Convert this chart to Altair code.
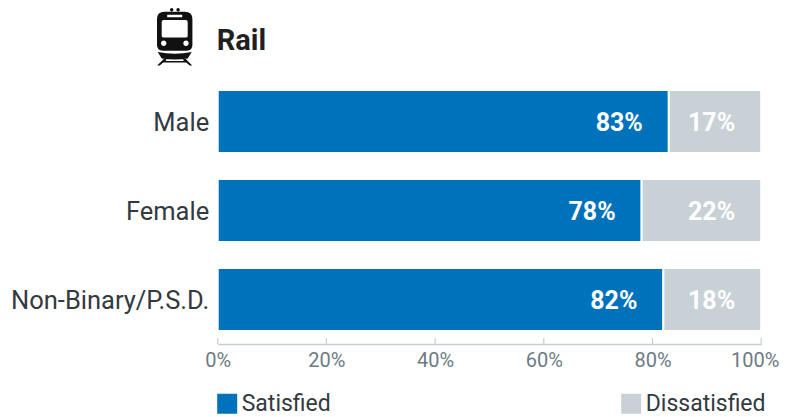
import altair as alt
import pandas as pd

groups = ["Male", "Female", "Non-Binary/P.S.D."]
satisfied = [83, 78, 82]
dissatisfied = [17, 22, 18]
ticks = [0, 20, 40, 60, 80, 100]
FONT = "Roboto"
BLUE = "#0072bc"
GREY = "#c8d1d6"

rows = []
for g, s, d in zip(groups, satisfied, dissatisfied):
    rows.append(dict(group=g, kind="Satisfied", start=0, end=s, label=f"{s}%"))
    rows.append(dict(group=g, kind="Dissatisfied", start=s, end=100, label=f"{d}%"))
df = pd.DataFrame(rows)

W, H = 543.5, 267
x_scale = alt.Scale(domain=[0, 100], nice=False)
y_enc = alt.Y("group:N", sort=groups, scale=alt.Scale(paddingInner=26 / 89),
              axis=alt.Axis(title=None, ticks=False, domain=False, labelColor="#333a40",
                            labelFontSize=25.5, labelFont=FONT, labelPadding=9, labelOffset=1.5))

bars = alt.Chart(df).mark_bar(stroke="white", strokeWidth=2).encode(
    x=alt.X("start:Q", scale=x_scale,
            axis=alt.Axis(values=ticks, title=None, grid=False, ticks=False, format="d",
                          labelExpr="datum.value + '%'", domainColor="#c5ced3", domainWidth=1.5,
                          labelFlush=False, labelOverlap=False,
                          labelOffset={"condition": {"test": "datum.value == 100", "value": -6.5}, "value": 0},
                          labelColor="#6d7b84", labelFontSize=20, labelFont=FONT, labelPadding=6)),
    x2="end:Q",
    y=y_enc,
    color=alt.Color("kind:N", scale=alt.Scale(domain=["Satisfied", "Dissatisfied"], range=[BLUE, GREY]),
                    legend=alt.Legend(title=None, orient="none", legendX=-2, legendY=315, direction="horizontal",
                                      columns=2, columnPadding=288, symbolType="square", symbolSize=400,
                                      symbolStrokeWidth=0, labelFont=FONT, labelFontSize=23, labelColor="#333a40",
                                      labelOffset=3, gridAlign="each")),
)

labels = alt.Chart(df).mark_text(align="right", dx=-26, dy=1, color="white", fontWeight="bold",
                                 fontSize=25, font=FONT).encode(
    x=alt.X("end:Q", scale=x_scale), y=alt.Y("group:N", sort=groups), text="label:N")

tick_df = pd.DataFrame({"t": ticks})
tick_rules = alt.Chart(tick_df).mark_rule(color="#c5ced3", strokeWidth=1.2).encode(
    x=alt.X("t:Q", scale=x_scale), y=alt.value(H - 6), y2=alt.value(H))

title = alt.Chart(pd.DataFrame({"t": ["Rail"]})).mark_text(
    align="left", baseline="middle", fontSize=29, fontWeight="bold", font=FONT, color="#231f20"
).encode(x=alt.value(-1), y=alt.value(-36), text="t:N")


def circle(cx, cy, r):
    k = r * 0.5523
    return (f"M{cx - r} {cy} C{cx - r} {cy - k} {cx - k} {cy - r} {cx} {cy - r} "
            f"C{cx + k} {cy - r} {cx + r} {cy - k} {cx + r} {cy} "
            f"C{cx + r} {cy + k} {cx + k} {cy + r} {cx} {cy + r} "
            f"C{cx - k} {cy + r} {cx - r} {cy + k} {cx - r} {cy} Z ")


body = ("M-17.7 -11 Q-17.7 -18.3 -10 -18.3 L10 -18.3 Q17.7 -18.3 17.7 -11 L17.7 15 Q17.7 20.7 12 20.7 "
        "L-12 20.7 Q-17.7 20.7 -17.7 15 Z "
        + circle(-3, -20.3, 1.7) + circle(3.4, -20.3, 1.7) +
        "M-17 22 Q0 25.5 17 22 L13 28.5 Q0 30.5 -13 28.5 Z "
        "M-11 29 L-8.5 29 L-9 31 L9 31 L8.5 29 L11 29 L17.5 35.5 L15 35.5 L11.5 32.5 L-11.5 32.5 L-15 35.5 L-17.5 35.5 Z")
holes = ("M-13 -8 Q-13 -10 -11 -10 L11 -10 Q13 -10 13 -8 L13 6 Q13 7.5 11 7.5 L-11 7.5 Q-13 7.5 -13 6 Z "
         "M-7.5 -15.3 L7.5 -15.3 L7.5 -12.7 L-7.5 -12.7 Z "
         + circle(-11, 13.3, 2.7) + circle(11.3, 13.3, 2.7))
anchor = pd.DataFrame({"a": [0]})
icon_b = alt.Chart(anchor).mark_point(shape=body, size=4, filled=True, fill="#111111", opacity=1, strokeWidth=0).encode(
    x=alt.value(-43), y=alt.value(-47))
icon_h = alt.Chart(anchor).mark_point(shape=holes, size=4, filled=True, fill="white", opacity=1, strokeWidth=0).encode(
    x=alt.value(-43), y=alt.value(-47))

chart = alt.layer(bars, labels, tick_rules, title, icon_b, icon_h).properties(
    width=W, height=H,
    autosize=alt.AutoSizeParams(type="none"),
    padding={"left": 209.7, "top": 69, "right": 18.8, "bottom": 80},
).configure_view(stroke=None).configure_axis(labelLimit=400)

chart.save("out.html", embed_options={"renderer": "svg", "actions": False})
